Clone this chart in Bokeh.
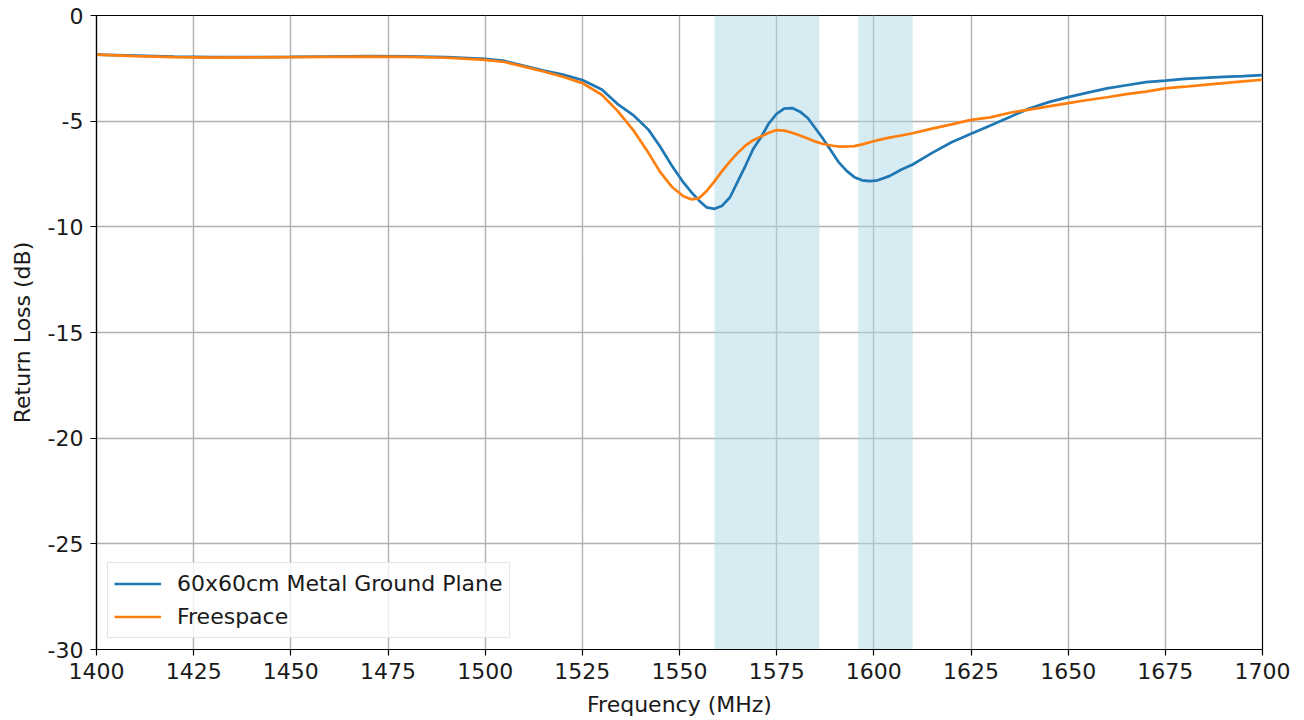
from bokeh.plotting import figure
from bokeh.models import FixedTicker, Legend, LegendItem, ColumnDataSource, PrintfTickFormatter
from bokeh.embed import file_html
from bokeh.resources import INLINE

freq = [1400, 1410, 1420, 1430, 1440, 1450, 1460, 1470, 1480, 1490, 1500, 1505, 1510,
        1515, 1520, 1525, 1530, 1534, 1538, 1542, 1545, 1548, 1551, 1553, 1555, 1557,
        1559, 1561, 1563, 1565, 1567, 1569, 1571, 1573, 1575, 1577, 1579, 1581, 1583,
        1585, 1587, 1589, 1591, 1593, 1595, 1597, 1599, 1601, 1604, 1607, 1610, 1615,
        1620, 1625, 1630, 1635, 1640, 1645, 1650, 1655, 1660, 1665, 1670, 1675, 1680,
        1685, 1690, 1695, 1700]

ground_plane = [-1.85, -1.90, -1.95, -1.97, -1.97, -1.96, -1.94, -1.92, -1.93, -1.97, -2.05,
                -2.15, -2.38, -2.60, -2.80, -3.05, -3.50, -4.18, -4.70, -5.40, -6.20, -7.10,
                -7.90, -8.35, -8.75, -9.08, -9.15, -9.00, -8.60, -7.85, -7.10, -6.30, -5.75,
                -5.10, -4.65, -4.40, -4.38, -4.55, -4.85, -5.35, -5.85, -6.40, -6.95, -7.35,
                -7.65, -7.80, -7.84, -7.80, -7.60, -7.30, -7.05, -6.50, -6.00, -5.60, -5.20,
                -4.80, -4.40, -4.10, -3.86, -3.65, -3.45, -3.30, -3.15, -3.08, -3.00, -2.95,
                -2.90, -2.87, -2.82]

freespace = [-1.85, -1.92, -1.97, -1.99, -1.98, -1.97, -1.96, -1.95, -1.96, -2.00, -2.10,
             -2.20, -2.42, -2.65, -2.90, -3.20, -3.75, -4.50, -5.40, -6.50, -7.40, -8.10,
             -8.55, -8.70, -8.65, -8.30, -7.85, -7.35, -6.90, -6.50, -6.15, -5.90, -5.72,
             -5.55, -5.42, -5.45, -5.55, -5.68, -5.82, -5.97, -6.08, -6.15, -6.20, -6.20,
             -6.18, -6.10, -6.00, -5.90, -5.78, -5.68, -5.57, -5.35, -5.15, -4.94, -4.82,
             -4.60, -4.45, -4.30, -4.15, -4.00, -3.87, -3.72, -3.60, -3.45, -3.37, -3.28,
             -3.20, -3.12, -3.04]

band_start = [1559, 1596]
band_end = [1586, 1610]

x_ticks = [1400, 1425, 1450, 1475, 1500, 1525, 1550, 1575, 1600, 1625, 1650, 1675, 1700]
y_ticks = [0, -5, -10, -15, -20, -25, -30]

FONT = "DejaVu Sans"
FS = "22px"

p = figure(width=1290, height=719, x_range=(1400, 1700), y_range=(-30, 0),
           output_backend="svg", toolbar_location=None,
           min_border_left=96, min_border_right=28, min_border_top=15, min_border_bottom=70)

bands = ColumnDataSource(dict(left=band_start, right=band_end,
                              bottom=[-30] * len(band_start), top=[0] * len(band_start)))
p.quad(left="left", right="right", bottom="bottom", top="top", source=bands,
       fill_color="lightblue", fill_alpha=0.5, line_color=None)

r1 = p.line(freq, ground_plane, line_color="#1f77b4", line_width=2.7)
r2 = p.line(freq, freespace, line_color="#ff7f0e", line_width=2.7)

p.xaxis.ticker = FixedTicker(ticks=x_ticks)
p.yaxis.ticker = FixedTicker(ticks=y_ticks)
p.xaxis.formatter = PrintfTickFormatter(format="%d")
p.yaxis.formatter = PrintfTickFormatter(format="%d")
for ax in (p.xaxis, p.yaxis):
    ax.major_label_text_font = FONT
    ax.major_label_text_font_size = FS
    ax.major_label_text_color = "#1a1a1a"
    ax.axis_label_text_font = FONT
    ax.axis_label_text_font_size = FS
    ax.axis_label_text_font_style = "normal"
    ax.axis_label_text_color = "#1a1a1a"
    ax.axis_line_color = "black"
    ax.axis_line_width = 1.2
    ax.major_tick_line_color = "black"
    ax.major_tick_line_width = 1.2
    ax.major_tick_out = 6
    ax.major_tick_in = 0
    ax.minor_tick_line_color = None
    ax.major_label_standoff = 7
p.xaxis.axis_label = "Frequency (MHz)"
p.yaxis.axis_label = "Return Loss (dB)"
p.xaxis.axis_label_standoff = 10
p.yaxis.axis_label_standoff = 10

p.xgrid.ticker = FixedTicker(ticks=x_ticks)
p.ygrid.ticker = FixedTicker(ticks=y_ticks)
p.grid.grid_line_color = "#b0b0b0"
p.grid.grid_line_width = 1.4
p.grid.grid_line_alpha = 1.0

p.outline_line_color = "black"
p.outline_line_width = 1.2
p.outline_line_alpha = 1.0

legend = Legend(items=[LegendItem(label="60x60cm Metal Ground Plane", renderers=[r1]),
                       LegendItem(label="Freespace", renderers=[r2])],
                location="bottom_left")
legend.label_text_font = FONT
legend.label_text_font_size = FS
legend.label_text_color = "#1a1a1a"
legend.glyph_width = 47
legend.glyph_height = 29
legend.label_height = 29
legend.label_standoff = 16
legend.border_line_color = "#cccccc"
legend.border_line_width = 1.5
legend.background_fill_alpha = 0.8
legend.margin = 11
legend.padding = 6
legend.spacing = 4
p.add_layout(legend)

p.background_fill_color = "white"
p.border_fill_color = "white"

open("out.html", "w").write(file_html(p, INLINE))
